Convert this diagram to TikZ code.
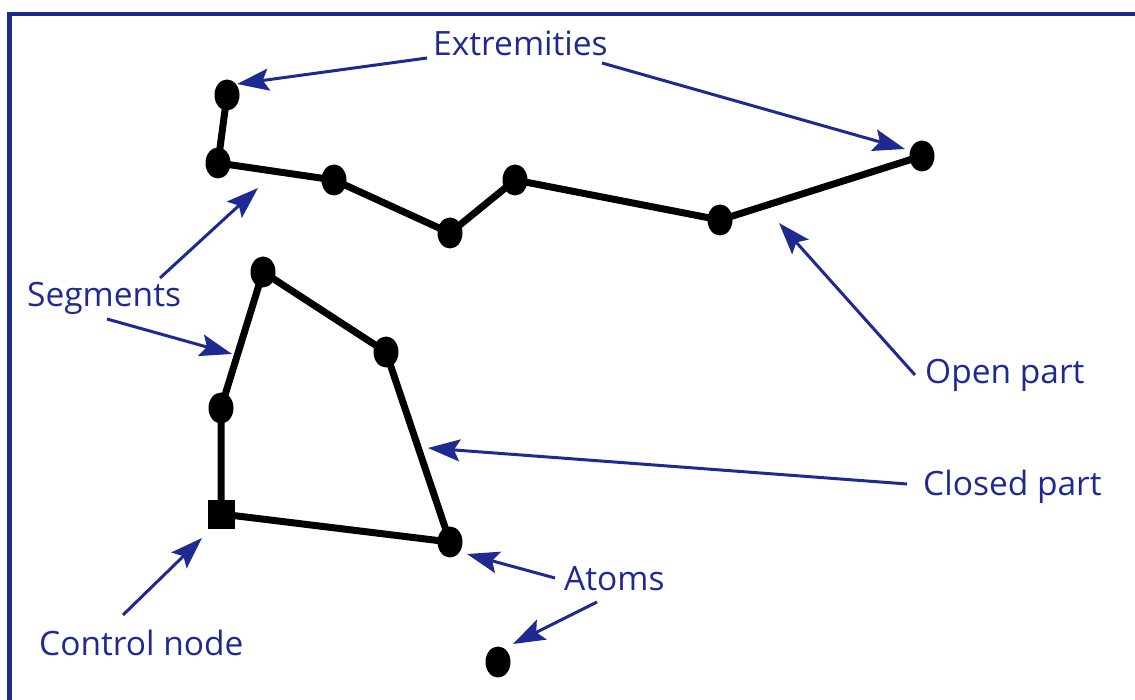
\documentclass[tikz,border=0pt]{standalone}
\usepackage{fontspec}
\setmainfont{Open Sans}
\usetikzlibrary{shapes.geometric,arrows.meta}
\definecolor{navy}{RGB}{30,42,145}
\tikzset{
  dot/.style={ellipse,fill=black,inner sep=0pt,minimum width=25pt,minimum height=31pt},
  sq/.style={rectangle,fill=black,inner sep=0pt,minimum width=27pt,minimum height=29pt},
  chain/.style={line width=7pt,black},
  lbl/.style={text=navy,font=\fontsize{33.5}{38}\selectfont,inner sep=0pt,anchor=base west},
  pointer/.style={navy,line width=3pt,-{Stealth[length=32pt,width=22pt,inset=6pt]}},
  frame/.style={navy,line width=4.5pt}
}
\begin{document}
\begin{tikzpicture}[x=1pt,y=-1pt]
\useasboundingbox (0,0) rectangle (1135,700);
% frame
\coordinate (fA) at (9.5,700);
\coordinate (fB) at (9.5,14);
\coordinate (fC) at (1135,14);
\draw[frame] (fA) -- (fB) -- (fC);
% open chain
\node[dot] (e1) at (227,95) {};
\node[dot] (p2) at (218,163) {};
\node[dot] (p3) at (334,180) {};
\node[dot] (p4) at (450,233) {};
\node[dot] (p5) at (515,180) {};
\node[dot] (p6) at (720,220) {};
\node[dot] (e2) at (922,156) {};
\draw[chain] (e1.center) -- (p2.center) -- (p3.center) -- (p4.center) -- (p5.center) -- (p6.center) -- (e2.center);
% closed polygon
\node[sq] (ctl) at (221,514) {};
\node[dot] (q1) at (221,408) {};
\node[dot] (q2) at (263,272) {};
\node[dot] (q3) at (386,352) {};
\node[dot] (q4) at (450,542) {};
\draw[chain,line join=round] (ctl.center) -- (q1.center) -- (q2.center) -- (q3.center) -- (q4.center) -- cycle;
% isolated atom
\node[dot] (atom) at (498,662) {};
% labels
\node[lbl] (lext) at (433,56) {Extremities};
\node[lbl] (lseg) at (27,307) {Segments};
\node[lbl] (lopen) at (925,384) {Open part};
\node[lbl] (lclosed) at (923,495) {Closed part};
\node[lbl] (latoms) at (564,590) {Atoms};
\node[lbl] (lctl) at (39,655) {Control node};
% arrow ends
\coordinate (t1) at (427,58);   \coordinate (h1) at (237,84);
\coordinate (t2) at (602,63);   \coordinate (h2) at (905,149);
\coordinate (t3) at (160,278);  \coordinate (h3) at (258,188);
\coordinate (t4) at (107,319);  \coordinate (h4) at (232,354);
\coordinate (t5) at (915,375);  \coordinate (h5) at (779,223);
\coordinate (t6) at (907,484);  \coordinate (h6) at (428,448);
\coordinate (t7) at (555,578);  \coordinate (h7) at (467,554);
\coordinate (t8) at (597,602);  \coordinate (h8) at (513,644);
\coordinate (t9) at (123,615);  \coordinate (h9) at (202,538);
\draw[pointer] (t1) -- (h1);
\draw[pointer] (t2) -- (h2);
\draw[pointer] (t3) -- (h3);
\draw[pointer] (t4) -- (h4);
\draw[pointer] (t5) -- (h5);
\draw[pointer] (t6) -- (h6);
\draw[pointer] (t7) -- (h7);
\draw[pointer] (t8) -- (h8);
\draw[pointer] (t9) -- (h9);
\end{tikzpicture}
\end{document}
